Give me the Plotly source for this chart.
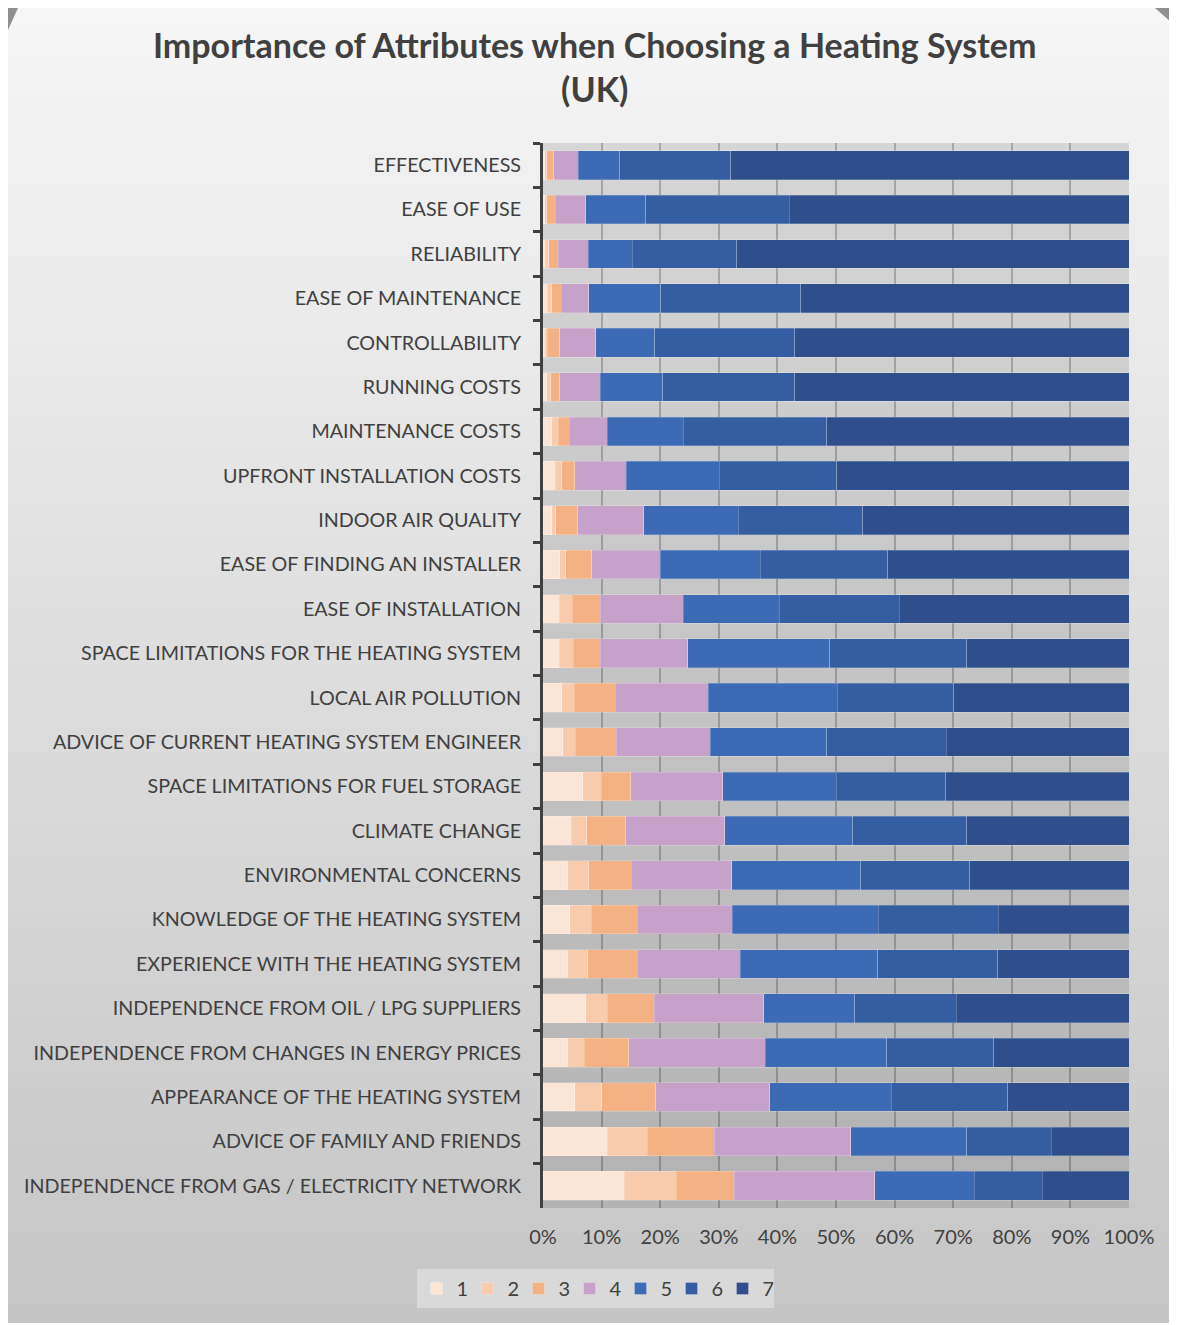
import plotly.graph_objects as go

categories = [
    "EFFECTIVENESS", "EASE OF USE", "RELIABILITY", "EASE OF MAINTENANCE",
    "CONTROLLABILITY", "RUNNING COSTS", "MAINTENANCE COSTS",
    "UPFRONT INSTALLATION COSTS", "INDOOR AIR QUALITY",
    "EASE OF FINDING AN INSTALLER", "EASE OF INSTALLATION",
    "SPACE LIMITATIONS FOR THE HEATING SYSTEM", "LOCAL AIR POLLUTION",
    "ADVICE OF CURRENT HEATING SYSTEM ENGINEER",
    "SPACE LIMITATIONS FOR FUEL STORAGE", "CLIMATE CHANGE",
    "ENVIRONMENTAL CONCERNS", "KNOWLEDGE OF THE HEATING SYSTEM",
    "EXPERIENCE WITH THE HEATING SYSTEM",
    "INDEPENDENCE FROM OIL / LPG SUPPLIERS",
    "INDEPENDENCE FROM CHANGES IN ENERGY PRICES",
    "APPEARANCE OF THE HEATING SYSTEM", "ADVICE OF FAMILY AND FRIENDS",
    "INDEPENDENCE FROM GAS / ELECTRICITY NETWORK",
]

s1 = [0.3, 0.3, 0.4, 0.7, 0.4, 0.6, 1.5, 2.1, 1.5, 2.9, 2.8, 2.8, 3.2, 3.4,
      6.8, 4.8, 4.2, 4.6, 4.2, 7.3, 4.2, 5.4, 11.0, 13.9]
s2 = [0.3, 0.3, 0.6, 0.8, 0.3, 0.7, 1.1, 1.1, 0.7, 1.0, 2.2, 2.4, 2.1, 2.1,
      3.1, 2.7, 3.6, 3.6, 3.4, 3.7, 2.8, 4.6, 6.8, 8.8]
s3 = [1.2, 1.5, 1.6, 1.6, 2.2, 1.6, 1.9, 2.2, 3.7, 4.4, 4.8, 4.6, 7.0, 7.0,
      5.1, 6.6, 7.3, 7.9, 8.5, 8.0, 7.6, 9.2, 11.4, 9.9]
s4 = [4.2, 5.2, 5.1, 4.7, 6.1, 6.9, 6.5, 8.8, 11.3, 11.7, 14.1, 14.9, 15.9,
      16.0, 15.7, 16.9, 17.1, 16.2, 17.6, 18.7, 23.3, 19.5, 23.3, 24.0]
s5 = [7.1, 10.2, 7.5, 12.3, 10.1, 10.6, 12.9, 15.9, 16.1, 17.1, 16.4, 24.2,
      22.0, 19.9, 19.3, 21.9, 22.0, 24.9, 23.4, 15.5, 20.8, 20.7, 19.8, 17.0]
s6 = [18.9, 24.5, 17.9, 23.9, 23.9, 22.6, 24.5, 20.0, 21.3, 21.7, 20.5, 23.4,
      19.9, 20.4, 18.7, 19.4, 18.6, 20.5, 20.5, 17.3, 18.2, 19.9, 14.4, 11.6]
s7 = [68.0, 58.0, 66.9, 56.0, 57.0, 57.0, 51.6, 49.9, 45.4, 41.2, 39.2, 27.7,
      29.9, 31.2, 31.3, 27.7, 27.2, 22.3, 22.4, 29.5, 23.1, 20.7, 13.3, 14.8]

series_names = ["1", "2", "3", "4", "5", "6", "7"]
series_values = [s1, s2, s3, s4, s5, s6, s7]
series_colors = ["#FBE5D6", "#F8CBAD", "#F4B183", "#C6A2CA",
                 "#3D6AB4", "#355DA2", "#2E4F8C"]
x_ticks = [0, 10, 20, 30, 40, 50, 60, 70, 80, 90, 100]

# the page body adds an 8px offset; all positions below are screen px - 8
OFF = 8
W, H = 1177 - OFF, 1325 - OFF
L, R, T, B = 543 - OFF, 1129 - OFF, 143 - OFF, 1208 - OFF


def px2x(px):
    return (px - OFF - L) / (R - L)


def py2y(py):
    return (B - (py - OFF)) / (B - T)


FONT = "Lato"
TXT = "#404040"

fig = go.Figure()
for name, vals, col in zip(series_names, series_values, series_colors):
    fig.add_trace(go.Bar(
        y=categories, x=vals, name=name, orientation="h",
        marker=dict(color=col, line=dict(color="rgba(255,255,255,0.35)", width=0.6)),
    ))

shapes = []
# gradient background of the chart frame (screen px)
x0f, x1f, y0f, y1f = 5, 1180, 8, 1323
n = 90
top_c, bot_c = 246, 197
for i in range(n):
    ya = y0f + (y1f - y0f) * i / n
    yb = y0f + (y1f - y0f) * (i + 1) / n + 0.8
    c = round(top_c + (bot_c - top_c) * (i + 0.5) / n)
    shapes.append(dict(type="rect", xref="paper", yref="paper", layer="below",
                       x0=px2x(x0f), x1=px2x(x1f), y0=py2y(ya), y1=py2y(min(yb, y1f)),
                       line=dict(width=0), fillcolor=f"rgb({c},{c},{c})"))
# plot-area tint
shapes.append(dict(type="rect", xref="paper", yref="paper", layer="below",
                   x0=0, x1=1, y0=0, y1=1, line=dict(width=0),
                   fillcolor="rgba(0,0,0,0.11)"))
# corner bevels
def tri(p):
    return "M " + " L ".join(f"{px2x(a)},{py2y(b)}" for a, b in p) + " Z"

shapes.append(dict(type="path", xref="paper", yref="paper",
                   path=tri([(8, 8), (18, 8), (8, 30)]),
                   fillcolor="#8f8f8f", line=dict(width=0)))
shapes.append(dict(type="path", xref="paper", yref="paper",
                   path=tri([(1155, 8), (1180, 8), (1180, 30)]),
                   fillcolor="#8f8f8f", line=dict(width=0)))

fig.update_layout(
    width=W, height=H,
    margin=dict(l=L, r=W - R, t=T, b=H - B, pad=0),
    paper_bgcolor="white",
    plot_bgcolor="rgba(0,0,0,0)",
    barmode="stack",
    bargap=0.35,
    shapes=shapes,
    showlegend=True,
    legend=dict(
        orientation="h", xref="paper", yref="paper",
        x=px2x(595), xanchor="center", y=py2y(1269), yanchor="top",
        bgcolor="#d9d9d9", borderwidth=0,
        font=dict(family=FONT, size=20, color=TXT),
        traceorder="normal", itemwidth=30,
        entrywidth=6, entrywidthmode="pixels",
    ),
    annotations=[dict(
        text="<b>Importance of Attributes when Choosing a Heating System<br>(UK)</b>",
        xref="paper", yref="paper", x=px2x(594), y=py2y(22),
        xanchor="center", yanchor="top", showarrow=False, align="center",
        font=dict(family=FONT, size=34, color=TXT),
    )],
    xaxis=dict(
        range=[0, 100], tickvals=x_ticks, ticktext=[f"{v}%" for v in x_ticks],
        showgrid=True, gridcolor="rgba(0,0,0,0.22)", gridwidth=1.6,
        zeroline=False, showline=False, ticks="",
        tickfont=dict(family=FONT, size=20, color=TXT),
        ticklabelstandoff=15,
        fixedrange=True,
    ),
    yaxis=dict(
        categoryorder="array", categoryarray=categories,
        autorange="reversed",
        showline=True, linecolor="#404040", linewidth=3,
        ticks="outside", tickson="boundaries", ticklen=7, tickwidth=3,
        tickcolor="#404040",
        showgrid=False, zeroline=False,
        tickfont=dict(family=FONT, size=19.7, color=TXT),
        ticklabelstandoff=15,
        fixedrange=True,
    ),
)

fig.write_html("out.html")
